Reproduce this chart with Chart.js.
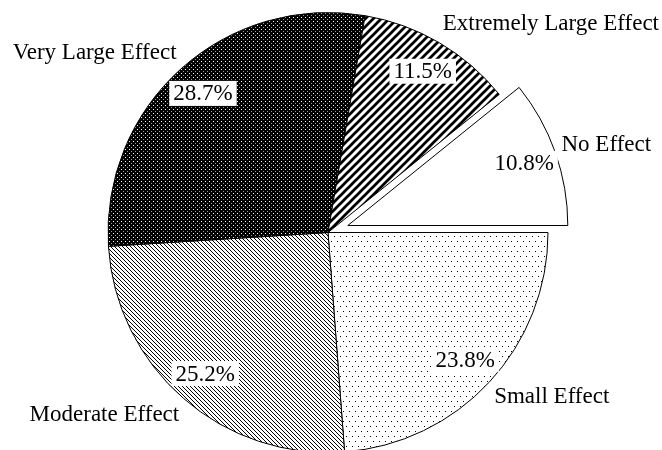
<!DOCTYPE html>
<html>
<head>
<meta charset="utf-8">
<script src="https://cdn.jsdelivr.net/npm/chart.js@4.4.1/dist/chart.umd.min.js"></script>
<style>
html, body { margin: 0; padding: 0; background: #fff; overflow: hidden; }
#wrap { width: 662px; height: 456px; }
</style>
</head>
<body>
<div id="wrap"><canvas id="pie" width="662" height="456"></canvas></div>
<script>
// Datos del gráfico (en sentido horario desde las 3 en punto)
const categories = ['Small Effect', 'Moderate Effect', 'Very Large Effect', 'Extremely Large Effect', 'No Effect'];
const percents   = [23.8, 25.2, 28.7, 11.5, 10.8];

const EXPLODE_CAT = 'No Effect';
const EXPLODE_PX  = 21;
const FONT = '23px "Liberation Serif", "Times New Roman", serif';

function tile(w, h, draw) {
    const c = document.createElement('canvas');
    c.width = w; c.height = h;
    const g = c.getContext('2d');
    draw(g, w, h);
    return document.createElement('canvas').getContext('2d').createPattern(c, 'repeat');
}

// tramas
const dotsSparse = tile(6, 10, (g, w, h) => {
    g.fillStyle = '#fff'; g.fillRect(0, 0, w, h);
    g.fillStyle = '#000';
    g.fillRect(1, 1, 1, 1);
    g.fillRect(4, 6, 1, 1);
});
const fineBackslash = tile(4, 4, (g, w, h) => {
    g.fillStyle = '#fff'; g.fillRect(0, 0, w, h);
    g.strokeStyle = '#000'; g.lineWidth = 1.0;
    for (let o = -4; o <= 4; o += 4) {
        g.beginPath(); g.moveTo(o - 1, -1); g.lineTo(o + 5, 5); g.stroke();
    }
});
const darkDots = tile(4, 4, (g, w, h) => {
    g.fillStyle = '#000'; g.fillRect(0, 0, w, h);
    g.fillStyle = '#fff'; g.fillRect(1, 1, 1, 1);
    g.fillStyle = '#999'; g.fillRect(3, 3, 1, 1);
});
const thickSlash = tile(8, 8, (g, w, h) => {
    g.fillStyle = '#fff'; g.fillRect(0, 0, w, h);
    g.strokeStyle = '#000'; g.lineWidth = 2.7;
    for (let o = -8; o <= 8; o += 8) {
        g.beginPath(); g.moveTo(o - 2, 10); g.lineTo(o + 10, -2); g.stroke();
    }
});
const fills = [dotsSparse, fineBackslash, darkDots, thickSlash, '#fff'];

// desplaza la porción separada a lo largo de su ángulo medio
const explodePlugin = {
    id: 'explode',
    afterDatasetUpdate(chart, args) {
        const i = categories.indexOf(EXPLODE_CAT);
        const arc = args.meta.data[i];
        if (!arc) return;
        const mid = (arc.startAngle + arc.endAngle) / 2;
        arc.x += Math.cos(mid) * EXPLODE_PX;
        arc.y += Math.sin(mid) * EXPLODE_PX;
    }
};

const labelPlugin = {
    id: 'pieLabels',
    afterDatasetsDraw(chart) {
        const ctx = chart.ctx;
        const meta = chart.getDatasetMeta(0);
        ctx.save();
        ctx.font = FONT;
        ctx.textBaseline = 'middle';
        meta.data.forEach((arc, i) => {
            const { x, y, startAngle, endAngle, outerRadius } = arc;
            const mid = (startAngle + endAngle) / 2;
            const c = Math.cos(mid), s = Math.sin(mid);

            const pct = percents[i].toFixed(1) + '%';
            const px = x + c * outerRadius * 0.85, py = y + s * outerRadius * 0.85;
            const w = ctx.measureText(pct).width;
            ctx.fillStyle = '#fff';
            ctx.fillRect(px - w / 2 - 4, py - 12.5, w + 8, 25);
            ctx.fillStyle = '#000';
            ctx.textAlign = 'center';
            ctx.fillText(pct, px, py + 1);

            const lx = x + c * outerRadius * 1.03, ly = y + s * outerRadius * 1.1;
            const lw = ctx.measureText(categories[i]).width;
            let left = c >= 0 ? lx : lx - lw;
            left = Math.min(Math.max(left, 4), chart.width - 3 - lw);
            ctx.textAlign = 'left';
            ctx.fillText(categories[i], left, ly);
        });
        ctx.restore();
    }
};

new Chart(document.getElementById('pie'), {
    type: 'pie',
    data: {
        labels: categories,
        datasets: [{
            data: percents,
            backgroundColor: fills,
            borderColor: '#000',
            borderWidth: 1
        }]
    },
    options: {
        responsive: false,
        animation: false,
        events: [],
        rotation: 90,
        layout: { padding: { left: 0, right: 6, top: 12, bottom: 3 } },
        plugins: { legend: { display: false }, tooltip: { enabled: false } }
    },
    plugins: [explodePlugin, labelPlugin]
});
</script>
</body>
</html>
